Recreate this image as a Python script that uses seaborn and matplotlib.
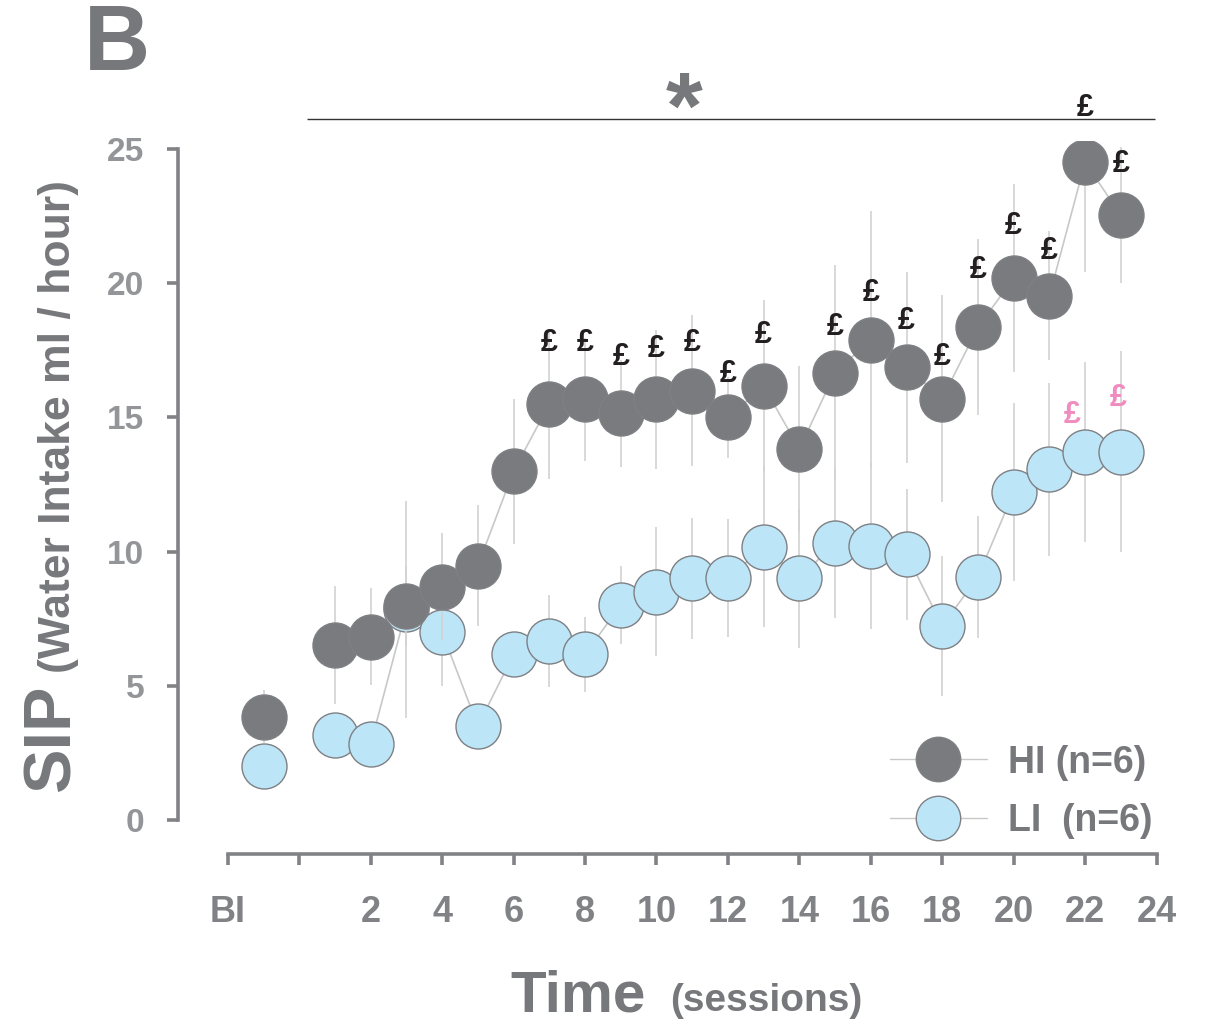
import numpy as np
import pandas as pd
import matplotlib
matplotlib.use("Agg")
import matplotlib.pyplot as plt
import seaborn as sns
from matplotlib.lines import Line2D

# ---------------- data ----------------
sessions = [-1] + list(range(1, 24))          # -1 = baseline (BI)
hi_mean = [3.85, 6.52, 6.83, 7.98, 8.69, 9.48, 13.0, 15.5, 15.67, 15.15, 15.67, 16.0,
           15.0, 16.17, 13.82, 16.67, 17.9, 16.87, 15.7, 18.36, 20.19, 19.53, 24.51, 22.53]
hi_sem = [1.0, 2.2, 1.8, 1.5, 2.0, 2.25, 2.7, 2.8, 2.3, 2.0, 2.6, 2.8,
          1.5, 3.2, 3.1, 4.0, 4.8, 3.55, 3.85, 3.27, 3.5, 2.4, 4.1, 2.53]
li_mean = [2.0, 3.17, 2.83, 7.85, 6.99, 3.5, 6.17, 6.67, 6.17, 8.01, 8.5, 9.0,
           9.0, 10.18, 9.0, 10.33, 10.2, 9.9, 7.23, 9.06, 12.22, 13.06, 13.72, 13.72]
li_sem = [0.5, 0.7, 0.5, 4.05, 2.0, 0.6, 0.8, 1.7, 1.4, 1.45, 2.4, 2.25,
          2.2, 3.0, 2.6, 2.8, 3.1, 2.45, 2.6, 2.28, 3.3, 3.23, 3.36, 3.75]
group_labels = ["HI (n=6)", "LI  (n=6)"]

x_tick_values = list(range(-2, 25, 2))
x_tick_labels = ["BI", ""] + [str(v) for v in range(2, 25, 2)]
y_tick_values = [0, 5, 10, 15, 20, 25]

# significance annotations (£ above HI points, pink £ for LI)
hi_mark_x = [7, 8, 9, 10, 11, 12, 13, 15, 16, 17, 18, 19, 20, 21, 22, 23]
hi_mark_y = [17.77, 17.77, 17.25, 17.55, 17.77, 16.62, 18.07, 18.37, 19.63, 18.6,
             17.24, 20.5, 22.13, 21.2, 26.54, 24.44]
li_mark_x = [21.64, 22.92]
li_mark_y = [15.09, 15.74]
sig_line_start, sig_line_end, sig_line_y = 0.21, 23.96, 26.12
star_x, star_y = 10.78, 26.35

# ---------------- style ----------------
sns.set_theme(style="white")
plt.rcParams["font.family"] = ["Liberation Sans", "DejaVu Sans"]
plt.rcParams["font.weight"] = "bold"

HI_COLOR = "#7a7b7f"
LI_COLOR = "#bde5f8"
EDGE = "#7e8084"
LINE = "#c8c8c8"
ERR = "#d2d2d2"
SPINE = "#808285"
TXT = "#77787b"

df = pd.DataFrame({
    "session": sessions * 2,
    "mean": hi_mean + li_mean,
    "sem": hi_sem + li_sem,
    "group": ["HI"] * len(sessions) + ["LI"] * len(sessions),
})
df["segment"] = np.where(df["session"] < 0, "BI", "S")

W, H = 1208, 1025
fig = plt.figure(figsize=(W / 100, H / 100), dpi=100)
ax_left, ax_right, ax_top, ax_bot = 177.8, 1163.7, 141.0, 833.4
ax = fig.add_axes([ax_left / W, 1 - ax_bot / H, (ax_right - ax_left) / W, (ax_bot - ax_top) / H])

styles = {"LI": (LI_COLOR, 2), "HI": (HI_COLOR, 5)}
for g in ["LI", "HI"]:
    fill, z = styles[g]
    sub = df[df["group"] == g]
    ax.errorbar(sub["session"], sub["mean"], yerr=sub["sem"], fmt="none",
                ecolor=ERR, elinewidth=1.2, capsize=0, zorder=z)
    sns.lineplot(data=sub[sub["segment"] == "S"], x="session", y="mean",
                 color=LINE, lw=1.2, estimator=None, ax=ax, zorder=z + 0.5)
    sns.scatterplot(data=sub, x="session", y="mean", color=fill, edgecolor=EDGE,
                    s=1050, linewidth=1.0, ax=ax, zorder=z + 1, legend=False)

ax.set_xlim(-3.4, 24.2)
ax.set_ylim(-0.5, 25.3)
ax.set_xticks(x_tick_values)
ax.set_xticklabels(x_tick_labels)
ax.set_yticks(y_tick_values)
ax.set_xlabel("")
ax.set_ylabel("")

for s in ["top", "right"]:
    ax.spines[s].set_visible(False)
for s in ["left", "bottom"]:
    ax.spines[s].set_color(SPINE)
    ax.spines[s].set_linewidth(2.6)
ax.spines["bottom"].set_position(("outward", 14.5))
ax.spines["bottom"].set_bounds(-2, 24)
ax.spines["left"].set_bounds(0, 25)

ax.tick_params(axis="both", direction="out", color=SPINE, width=2.6, length=8,
               bottom=True, left=True)
ax.tick_params(axis="x", labelsize=26, labelcolor="#808285", pad=22)
ax.tick_params(axis="y", labelsize=24, labelcolor="#939598", pad=16)
for lab in ax.get_xticklabels() + ax.get_yticklabels():
    lab.set_fontweight("bold")

# annotations
for x, y in zip(hi_mark_x, hi_mark_y):
    ax.text(x, y, "£", ha="center", va="center", fontsize=22, fontweight="bold",
            color="#231f20", clip_on=False, zorder=10)
for x, y in zip(li_mark_x, li_mark_y):
    ax.text(x, y, "£", ha="center", va="center", fontsize=22, fontweight="bold",
            color="#f08cbf", clip_on=False, zorder=10)
ax.hlines(sig_line_y, sig_line_start, sig_line_end, color="#333333", lw=1.0, clip_on=False)
ax.text(star_x, star_y, "*", ha="center", va="center", fontsize=68, fontweight="bold",
        color=TXT, clip_on=False)

# legend
handles = [
    Line2D([0], [0], color=LINE, lw=1.0, marker="o", markersize=32,
           markerfacecolor=HI_COLOR, markeredgecolor=EDGE, markeredgewidth=1.0),
    Line2D([0], [0], color=LINE, lw=1.0, marker="o", markersize=32,
           markerfacecolor=LI_COLOR, markeredgecolor=EDGE, markeredgewidth=1.0),
]
leg = ax.legend(handles, group_labels, loc="center left", bbox_to_anchor=(0.722, 0.06),
                frameon=False, fontsize=27, handlelength=2.6, handletextpad=0.55,
                labelspacing=0.6, borderpad=0, borderaxespad=0)
for t in leg.get_texts():
    t.set_color(TXT)
    t.set_fontweight("bold")

# axis titles and panel letter
fig.text(70 / W, 1 - 738 / H, "SIP", rotation=90, rotation_mode="anchor",
         ha="center", va="baseline", fontsize=48, fontweight="bold", color=TXT)
fig.text(70 / W, 1 - 427 / H, "(Water Intake ml / hour)", rotation=90, rotation_mode="anchor",
         ha="center", va="baseline", fontsize=32, fontweight="bold", color=TXT)
fig.text(510 / W, 1 - 1011 / H, "Time", ha="left", va="baseline", fontsize=42,
         fontweight="bold", color=TXT)
fig.text(670 / W, 1 - 1011 / H, "(sessions)", ha="left", va="baseline", fontsize=28,
         fontweight="bold", color=TXT)
fig.text(117 / W, 1 - 46 / H, "B", ha="center", va="center", fontsize=66,
         fontweight="bold", color=TXT)

fig.savefig("out.png", dpi=100)
